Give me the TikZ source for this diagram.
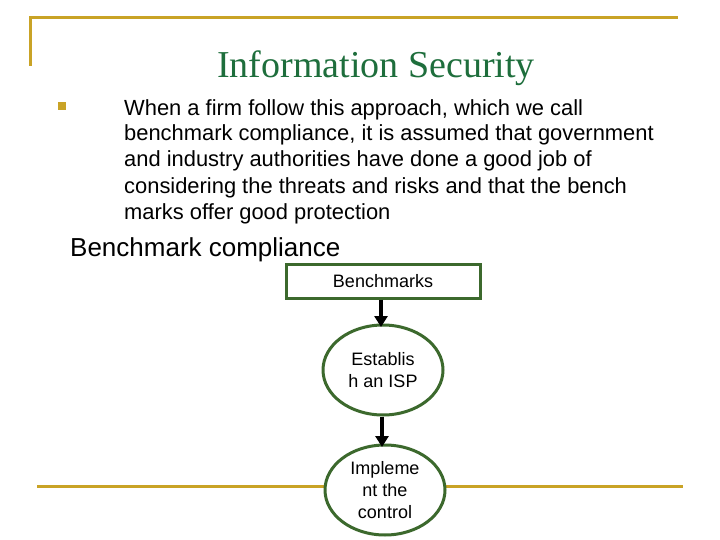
\documentclass[tikz,border=0pt]{standalone}
\usepackage{fontspec}
\setmainfont{Liberation Sans}
\newfontfamily\titlefont{Liberation Serif}
\usetikzlibrary{shapes.geometric,arrows.meta}
\definecolor{gold}{RGB}{201,163,38}
\definecolor{titlegreen}{RGB}{30,110,60}
\definecolor{boxgreen}{RGB}{60,105,45}
\tikzset{
  goldline/.style={draw=gold,line width=3pt},
  stepbox/.style={draw=boxgreen,line width=3pt,fill=white,minimum width=194pt,minimum height=34pt,inner sep=0pt,font=\fontsize{18}{21}\selectfont},
  stepell/.style={ellipse,draw=boxgreen,line width=3pt,fill=white,minimum width=120pt,minimum height=90pt,inner sep=0pt,align=center,font=\fontsize{18}{22}\selectfont},
  flow/.style={-{Triangle[length=11pt,width=13pt]},line width=4pt,black}
}
\begin{document}
\begin{tikzpicture}[x=1pt,y=-1pt]
\useasboundingbox (0,0) rectangle (720,540);
\fill[white] (0,0) rectangle (720,540);
\coordinate (t1) at (30,18);
\coordinate (t2) at (678,18);
\coordinate (t3) at (30,66);
\draw[goldline] (t3) -- (t1) -- (t2);
\coordinate (b1) at (37,486);
\coordinate (b2) at (683,486);
\draw[goldline] (b1) -- (b2);
\node[anchor=base,inner sep=0pt,text=titlegreen,font=\titlefont\fontsize{38}{44}\selectfont] (title) at (376,78) {Information Security};
\node[fill=gold,minimum size=8pt,inner sep=0pt] (bul) at (62,106) {};
\node[anchor=base west,align=left,inner sep=0pt,font=\fontsize{21.9}{26}\selectfont] (txt) at (124,219)
{When a firm follow this approach, which we call\\benchmark compliance, it is assumed that government\\and industry authorities have done a good job of\\considering the threats and risks and that the bench\\marks offer good protection};
\node[anchor=base west,inner sep=0pt,font=\fontsize{26}{30}\selectfont] (bc) at (70,256) {Benchmark compliance};
\node[stepbox] (bm) at (383,281) {Benchmarks};
\node[stepell] (e1) at (383,370) {Establis\\h an ISP};
\node[stepell] (e2) at (385,490) {Impleme\\nt the\\control};
\draw[flow] (bm.south -| 381,0) -- (381,327);
\draw[flow] (e1.south -| 382,0) -- (382,447);
\end{tikzpicture}
\end{document}
